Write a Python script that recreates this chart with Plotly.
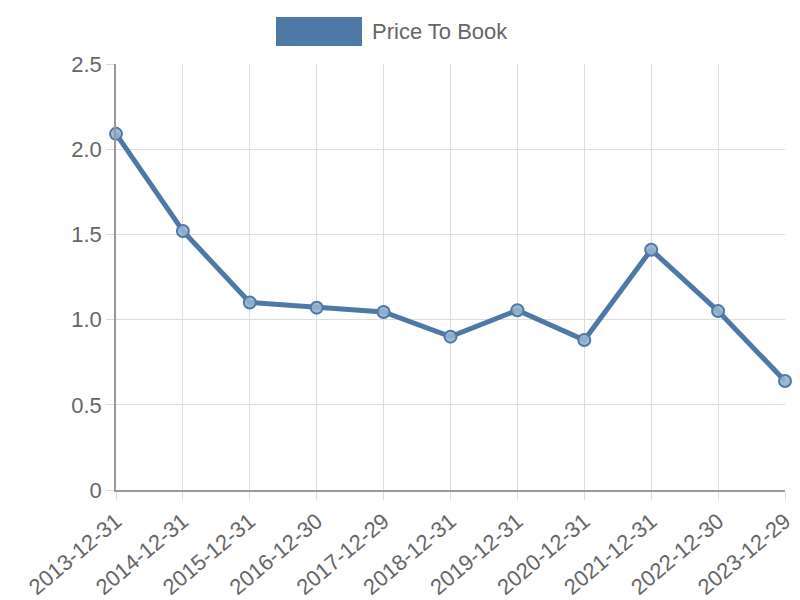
import plotly.graph_objects as go

dates = ["2013-12-31", "2014-12-31", "2015-12-31", "2016-12-30", "2017-12-29",
         "2018-12-31", "2019-12-31", "2020-12-31", "2021-12-31", "2022-12-30", "2023-12-29"]
price_to_book = [2.09, 1.52, 1.10, 1.07, 1.045, 0.90, 1.055, 0.88, 1.41, 1.05, 0.64]
series_name = "Price To Book"
y_ticks = [0, 0.5, 1.0, 1.5, 2.0, 2.5]
y_tick_labels = ["0", "0.5", "1.0", "1.5", "2.0", "2.5"]

color = "#4e79a7"
font = "Liberation Sans, Arial, sans-serif"
fs = 22

fig = go.Figure()
fig.add_trace(go.Scatter(
    x=dates, y=price_to_book, mode="lines+markers", name=series_name,
    line=dict(color=color, width=5),
    marker=dict(size=12, color="rgba(150,178,210,0.9)", line=dict(color=color, width=2)),
    showlegend=False, cliponaxis=False,
))

fig.update_layout(
    width=800, height=600,
    margin=dict(l=116, r=15, t=64, b=110),
    paper_bgcolor="white", plot_bgcolor="white",
    font=dict(family=font, size=fs, color="#666666"),
)
fig.update_xaxes(
    type="category", tickangle=-40, showgrid=True, gridcolor="#dddddd", gridwidth=1,
    showline=True, linecolor="#999999", linewidth=1.5,
    ticks="outside", ticklen=8, tickcolor="#dddddd",
    tickfont=dict(size=fs, color="#666666"),
    range=[0, len(dates) - 1], automargin=False,
)
fig.update_yaxes(
    range=[0, 2.5], tickvals=y_ticks, ticktext=y_tick_labels,
    showgrid=True, gridcolor="#dddddd", gridwidth=1,
    showline=True, linecolor="#999999", linewidth=1.5,
    ticks="outside", ticklen=8, tickcolor="#dddddd",
    zeroline=False, tickfont=dict(size=fs, color="#666666"), automargin=False,
)
# legend drawn as box + label
fig.add_shape(type="rect", xref="paper", yref="paper",
              x0=(276 - 116) / 669, x1=(362 - 116) / 669,
              y0=(490 - 46) / 426, y1=(490 - 17) / 426,
              fillcolor=color, line=dict(width=0))
fig.add_annotation(text=series_name, xref="paper", yref="paper",
                   x=(370 - 116) / 669, y=(490 - 31.5) / 426,
                   xanchor="left", yanchor="middle", showarrow=False,
                   font=dict(size=fs, color="#666666", family=font))

fig.write_html("out.html", config={"displayModeBar": False},
               post_script="document.body.style.margin='0';document.body.style.overflow='hidden';")
